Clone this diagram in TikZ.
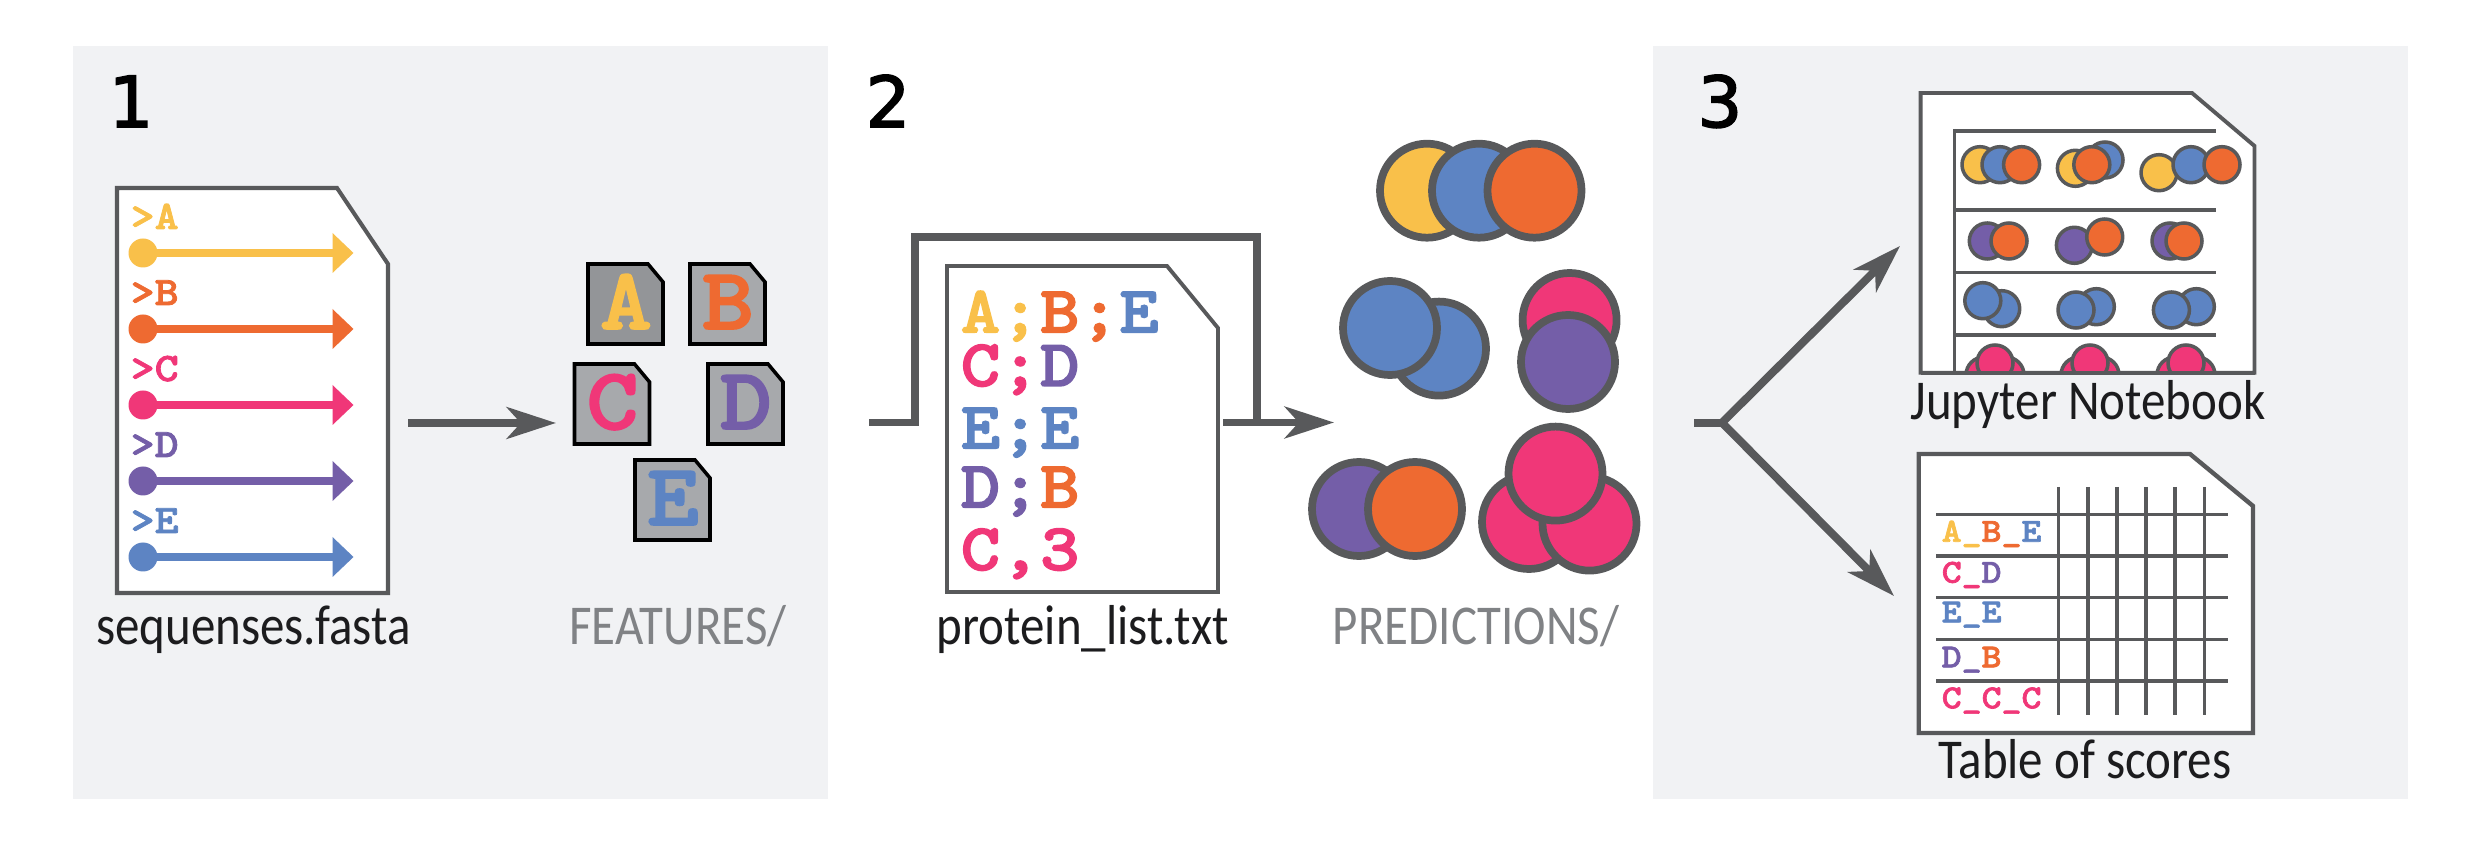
\documentclass[tikz,border=0pt]{standalone}
\usepackage{fontspec}
\usepackage{tikz}
\usetikzlibrary{arrows.meta}
\setmainfont[FakeStretch=0.87]{Carlito}
\newfontfamily\numfont[FakeBold=2.2]{DejaVu Sans}
\newfontfamily\seqfont[FakeStretch=1.13,FakeBold=2]{lmmonolt10-bold.otf}
\definecolor{panelbg}{HTML}{F1F2F4}
\definecolor{linegray}{HTML}{58595B}
\definecolor{dirgray}{HTML}{808285}
\definecolor{boxgray}{HTML}{A7A9AC}
\definecolor{boxdark}{HTML}{939598}
\definecolor{inkblack}{HTML}{1C1C1E}
\definecolor{seqA}{HTML}{F9C04A}
\definecolor{seqB}{HTML}{EE6A31}
\definecolor{seqC}{HTML}{F03778}
\definecolor{seqD}{HTML}{745EA8}
\definecolor{seqE}{HTML}{5D84C3}
\newcommand{\cA}[1]{\textcolor{seqA}{#1}}
\newcommand{\cB}[1]{\textcolor{seqB}{#1}}
\newcommand{\cC}[1]{\textcolor{seqC}{#1}}
\newcommand{\cD}[1]{\textcolor{seqD}{#1}}
\newcommand{\cE}[1]{\textcolor{seqE}{#1}}

\begin{document}
\begin{tikzpicture}[x=0.01cm,y=-0.01cm,
    flowline/.style={draw=linegray, line width=2.27pt, miter limit=10, >={Stealth[length=14pt,width=9pt,inset=4pt]}},
    docline/.style={draw=linegray, line width=1.1pt, fill=white},
    rule/.style={draw=linegray, line width=1pt},
    bigdisc/.style={draw=linegray, line width=2.2pt},
    smalldisc/.style={draw=linegray, line width=1pt},
    filelabel/.style={text=inkblack, font=\fontsize{16}{16}\selectfont, anchor=base, inner sep=0pt},
    dirlabel/.style={text=dirgray, font=\fontsize{16}{16}\selectfont, anchor=base, inner sep=0pt},
    steplabel/.style={text=black, font=\numfont\fontsize{20}{20}\selectfont, anchor=base, inner sep=0pt},
    headerlabel/.style={font=\seqfont\fontsize{11.5}{11.5}\selectfont, anchor=base west, inner sep=0pt},
    bigletter/.style={font=\seqfont\fontsize{25}{25}\selectfont, anchor=base, inner sep=0pt},
    pairlabel/.style={font=\seqfont\fontsize{19}{19}\selectfont, anchor=base west, inner sep=0pt},
    tablelabel/.style={font=\seqfont\fontsize{9.56}{9.56}\selectfont, anchor=base west, inner sep=0pt}]
    \useasboundingbox (0,0) rectangle (2481,846);
    % panels
    \fill[panelbg] (73,46) rectangle (828,799);
    \fill[panelbg] (1653,46) rectangle (2408,799);
    \node[steplabel] (step1) at (131,127) {1};
    \node[steplabel] (step2) at (888,127) {2};
    \node[steplabel] (step3) at (1720,127) {3};

    % fasta file
    \draw[docline, line width=1.15pt] (117,188) -- (337,188) -- (388,264) -- (388,593) -- (117,593) -- cycle;
    \foreach \y/\c/\n in {253/seqA/A,329/seqB/B,405/seqC/C,481/seqD/D,557/seqE/E} {
        \fill[\c] (143,\y) circle (14.5);
        \draw[\c, line width=2.5pt] (143,\y) -- (334,\y);
        \fill[\c] (332.5,\y-20) -- (353.5,\y) -- (332.5,\y+20) -- cycle;
        \node[headerlabel, text=\c] (head\n) at (130,\y-24) {>\n};
    }
    \node[filelabel] (fasta) at (253.5,644) {sequenses.fasta};

    % feature files
    \foreach \n/\x/\y/\c/\b in {A/588/264/seqA/boxdark,B/690/264/seqB/boxgray,C/574.5/364/seqC/boxgray,D/708/364/seqD/boxgray,E/635/460/seqE/boxgray} {
        \draw[fill=\b, draw=black, line width=1pt] (\x,\y) -- (\x+60,\y) -- (\x+75,\y+18) -- (\x+75,\y+80) -- (\x,\y+80) -- cycle;
        \node[bigletter, text=\c] (feat\n) at (\x+38,\y+65) {\n};
    }
    \node[dirlabel] (features) at (678,644) {FEATURES/};
    \coordinate (a1s) at (408,423); \coordinate (a1e) at (556,423);
    \draw[flowline, ->] (a1s) -- (a1e);

    % protein list and the line round it
    \coordinate (l1) at (869,422.5); \coordinate (l2) at (915,422.5);
    \coordinate (l3) at (915,237); \coordinate (l4) at (1257,237); \coordinate (l5) at (1257,422.5);
    \draw[flowline] (l1) -- (l2) -- (l3) -- (l4) -- (l5);
    \coordinate (a2s) at (1223,422.5); \coordinate (a2e) at (1334,422.5);
    \draw[flowline, ->] (a2s) -- (a2e);
    \draw[docline] (947,266) -- (1167,266) -- (1218,328) -- (1218,592) -- (947,592) -- cycle;
    \node[pairlabel] (pair1) at (960,332.5) {\cA{A;}\cB{B;}\cE{E}};
    \node[pairlabel] (pair2) at (960,386) {\cC{C;}\cD{D}};
    \node[pairlabel] (pair3) at (960,448.5) {\cE{E;E}};
    \node[pairlabel] (pair4) at (960,507.5) {\cD{D;}\cB{B}};
    \node[pairlabel] (pair5) at (960,570) {\cC{C,3}};
    \node[filelabel] (plist) at (1083,644) {protein\_list.txt};

    % predictions
    \foreach \x/\y/\c in {1427/190.7/seqA,1479/190.7/seqE,1534.5/190.7/seqB,
        1439/348.6/seqE,1390/328/seqE,1569.6/320/seqC,1568/362/seqD,
        1359/509/seqD,1415/509/seqB,1529/522/seqC,1589.5/523.6/seqC,1555.5/473.6/seqC}
        \draw[bigdisc, fill=\c] (\x,\y) circle (47);
    \node[dirlabel] (predictions) at (1476,644) {PREDICTIONS/};

    % fork
    \coordinate (f0) at (1694,422.7); \coordinate (fork) at (1722,422.7);
    \coordinate (fup) at (1900,246); \coordinate (fdown) at (1894,596);
    \draw[flowline] (f0) -- (fork);
    \draw[flowline, ->] (fork) -- (fup);
    \draw[flowline, ->] (fork) -- (fdown);

    % notebook
    \draw[docline] (1920.6,93) -- (2192,93) -- (2254.5,146) -- (2254.5,372.7) -- (1920.6,372.7) -- cycle;
    \foreach \y in {131,210,272.7,335} \draw[rule] (1954.5,\y) -- (2216,\y);
    \draw[rule] (1954.5,129) -- (1954.5,372.7);
    \foreach \x/\y/\c in {1980/164.7/seqA,2000/164.7/seqE,2021.6/164.7/seqB,
        2075.4/168.3/seqA,2105/160/seqE,2091.8/164.7/seqB,
        2159/172.7/seqA,2191/164.7/seqE,2222/164.7/seqB,
        1987.3/241/seqD,2009/241/seqB,2074.4/245.3/seqD,2104.7/237/seqB,2170/241/seqD,2184/241/seqB,
        2001.7/308.7/seqE,1982.8/300.7/seqE,2096.3/306.7/seqE,2076/310/seqE,2196.3/306.7/seqE,2171.4/310/seqE}
        \draw[smalldisc, fill=\c] (\x,\y) circle (18);
    \begin{scope}
        \clip (1920,93) rectangle (2255,372.7);
        \foreach \x in {1995,2090,2186} {
            \draw[smalldisc, fill=seqC] (\x-11,375) circle (18);
            \draw[smalldisc, fill=seqC] (\x+11,375) circle (18);
            \draw[smalldisc, fill=seqC] (\x,363) circle (18);
        }
    \end{scope}
    \draw[docline, fill=none] (1920.6,372.7) -- (2254.5,372.7);
    \node[filelabel] (jupyter) at (2088,420) {Jupyter Notebook};

    % table
    \draw[docline, line width=1.25pt] (1918.7,454) -- (2190,454) -- (2253,506) -- (2253,733) -- (1918.7,733) -- cycle;
    \foreach \y in {514.3,556,597.7,639.3,681} \draw[rule] (1936,\y) -- (2228,\y);
    \foreach \x in {2058.5,2087.8,2117,2146,2175,2204.7} \draw[rule] (\x,487) -- (\x,715);
    \node[tablelabel] (row1) at (1941,541.7) {\cA{A\_}\cB{B\_}\cE{E}};
    \node[tablelabel] (row2) at (1941,582.7) {\cC{C\_}\cD{D}};
    \node[tablelabel] (row3) at (1941,622.3) {\cE{E\_E}};
    \node[tablelabel] (row4) at (1941,667.3) {\cD{D\_}\cB{B}};
    \node[tablelabel] (row5) at (1941,708.3) {\cC{C\_C\_C}};
    \node[filelabel] (scores) at (2085,778) {Table of scores};
\end{tikzpicture}
\end{document}
